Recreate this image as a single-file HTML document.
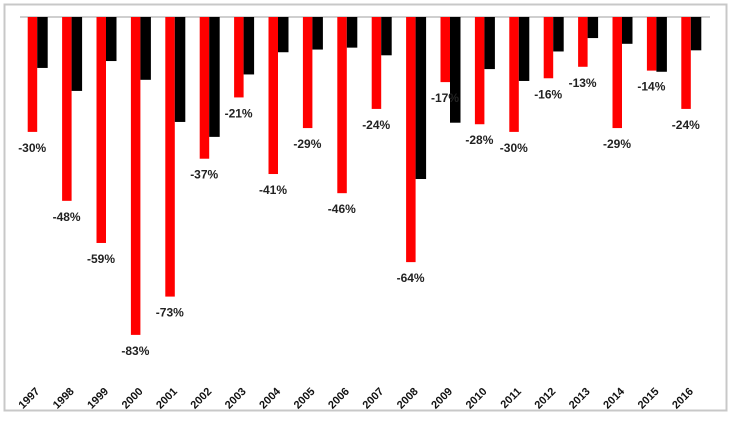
<!DOCTYPE html>
<html><head><meta charset="utf-8"><style>
body{margin:0;background:#fff;}
svg text{font-family:"Liberation Sans",sans-serif;font-weight:bold;}
</style></head><body>
<svg id="chart" width="731" height="416" xmlns="http://www.w3.org/2000/svg">
<rect x="4.5" y="4.5" width="722" height="406" fill="#fff" stroke="#c8c8c8" stroke-width="2"/>
<line x1="20" y1="17" x2="710" y2="17" stroke="#bfbfbf" stroke-width="1.5"/>
<g id="bars"></g>
</svg>
<script>
const years=["1997","1998","1999","2000","2001","2002","2003","2004","2005","2006","2007","2008","2009","2010","2011","2012","2013","2014","2015","2016"];
const redValues=[-30,-48,-59,-83,-73,-37,-21,-41,-29,-46,-24,-64,-17,-28,-30,-16,-13,-29,-14,-24];
const blackValues=[-13.3,-19.3,-11.5,-16.4,-27.4,-31.3,-15,-9.2,-8.5,-8,-10,-42.3,-27.6,-13.6,-16.7,-9,-5.5,-7,-14.3,-8.7];
const svg=document.getElementById('bars');
const NS='http://www.w3.org/2000/svg';
const x0=20,step=34.4,y0=17,pxPer=3.83;
function xCenter(i){return x0+step*i+17.2;}
function yScale(v){return y0-v*pxPer;}
years.forEach((yr,i)=>{
  const c=xCenter(i);
  const r=document.createElementNS(NS,'rect');
  
  
  r.setAttribute('x',c-9.5);r.setAttribute('y',y0);r.setAttribute('width',9.5);
  r.setAttribute('height',yScale(redValues[i])-y0);r.setAttribute('fill','#ff0000');
  svg.appendChild(r);
  const b=document.createElementNS(NS,'rect');
  
  
  b.setAttribute('x',c);b.setAttribute('y',y0);b.setAttribute('width',10.5);
  b.setAttribute('height',yScale(blackValues[i])-y0);b.setAttribute('fill','#000');
  svg.appendChild(b);
  const t=document.createElementNS(NS,'text');
  
  
  t.setAttribute('x',c-5);t.setAttribute('y',yScale(redValues[i])+20);
  t.setAttribute('text-anchor','middle');t.setAttribute('font-size','12');t.setAttribute('fill','#222');
  t.textContent=redValues[i]+'%';
  svg.appendChild(t);
  const yl=document.createElementNS(NS,'text');
  
  
  yl.setAttribute('transform','translate('+(c+3)+',392) rotate(-45)');
  yl.setAttribute('text-anchor','end');yl.setAttribute('font-size','11');yl.setAttribute('fill','#111');
  yl.textContent=yr;
  svg.appendChild(yl);
});
</script>
</body></html>
